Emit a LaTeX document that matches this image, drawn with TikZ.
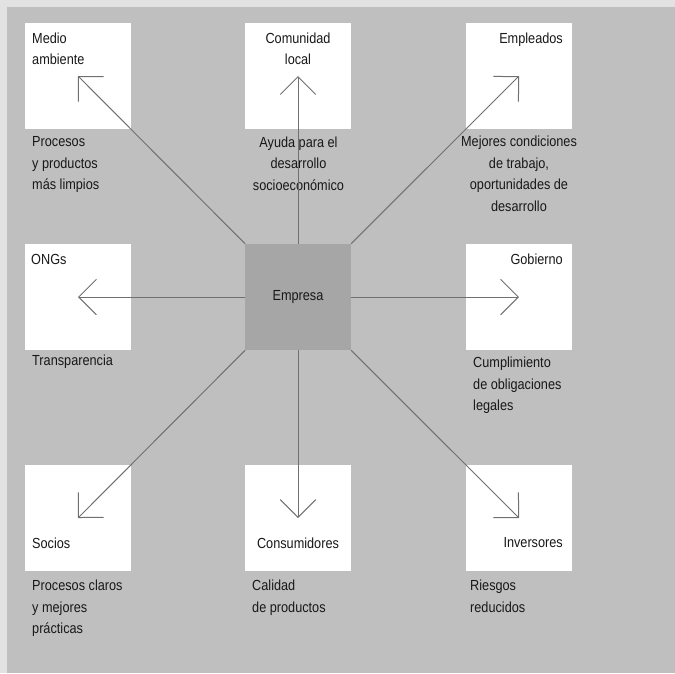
\documentclass[tikz,border=0pt]{standalone}
\usepackage{fontspec}
\setmainfont[FakeStretch=0.87]{Liberation Sans}
\usepackage{tikz}
\usetikzlibrary{arrows.meta, positioning}

\definecolor{outergray}{RGB}{226,226,226}
\definecolor{panelgray}{RGB}{191,191,191}
\definecolor{coregray}{RGB}{166,166,166}
\definecolor{arrowgray}{RGB}{112,112,112}
\definecolor{textgray}{RGB}{24,24,24}

\begin{document}
\begin{tikzpicture}[x=1pt, y=-1pt,
        every node/.style={font=\fontsize{14.6}{21.5}\selectfont, text=textgray, inner sep=0pt},
        party/.style={fill=white, minimum size=106pt},
        core/.style={fill=coregray, minimum size=106pt},
        lbl/.style={align=left},
        flow/.style={draw=arrowgray, line width=1pt,
            -{Straight Barb[length=17.7pt, width=35.4pt]}}]

            \useasboundingbox (0,0) rectangle (675,673);
            \fill[outergray] (0,0) rectangle (675,673);
            \fill[panelgray] (7,7) rectangle (675,673);

            % boxes of the stakeholders
            \node[party] (medio) at (78,76) {};
            \node[party] (comunidad) at (298,76) {};
            \node[party] (empleados) at (519,76) {};
            \node[party] (ong) at (78,297) {};
            \node[core] (emp) at (298,297) {Empresa};
            \node[party] (gobierno) at (519,297) {};
            \node[party] (socios) at (78,518) {};
            \node[party] (consum) at (298,518) {};
            \node[party] (inversores) at (519,518) {};

            % names inside the boxes
            \node[lbl, anchor=north west] (medio-t) at (32,32.5) {Medio\\ambiente};
            \node[align=center, anchor=north] (comunidad-t) at (298,32.5) {Comunidad\\local};
            \node[anchor=north east] (empleados-t) at (563,32.5) {Empleados};
            \node[anchor=north west] (ong-t) at (31,254) {ONGs};
            \node[anchor=north east] (gobierno-t) at (563,254) {Gobierno};
            \node[anchor=north west] (socios-t) at (32,538) {Socios};
            \node[anchor=north] (consum-t) at (298,538) {Consumidores};
            \node[anchor=north east] (inversores-t) at (563,537.5) {Inversores};

            % what each one gets
            \node[lbl, anchor=north west] (medio-d) at (32,136.5) {Procesos\\y productos\\más limpios};
            \node[align=center, anchor=north] (comunidad-d) at (298.5,136.5)
                {Ayuda para el\\desarrollo\\socioeconómico};
            \node[align=center, anchor=north] (empleados-d) at (519,136)
                {Mejores condiciones\\de trabajo,\\oportunidades de\\desarrollo};
            \node[lbl, anchor=north west] (ong-d) at (32,355) {Transparencia};
            \node[lbl, anchor=north west] (gobierno-d) at (473,357)
                {Cumplimiento\\de obligaciones\\legales};
            \node[lbl, anchor=north west] (socios-d) at (32,580) {Procesos claros\\y mejores\\prácticas};
            \node[lbl, anchor=north west] (consum-d) at (252,580) {Calidad\\de productos};
            \node[lbl, anchor=north west] (inversores-d) at (470,580) {Riesgos\\reducidos};

            % arrows from the company
            \draw[flow] (emp) -- (medio.center);
            \draw[flow] (emp) -- (comunidad.center);
            \draw[flow] (emp) -- (empleados.center);
            \draw[flow] (emp) -- (ong.center);
            \draw[flow] (emp) -- (gobierno.center);
            \draw[flow] (emp) -- (socios.center);
            \draw[flow] (emp) -- (consum.center);
            \draw[flow] (emp) -- (inversores.center);

        \end{tikzpicture}
\end{document}
